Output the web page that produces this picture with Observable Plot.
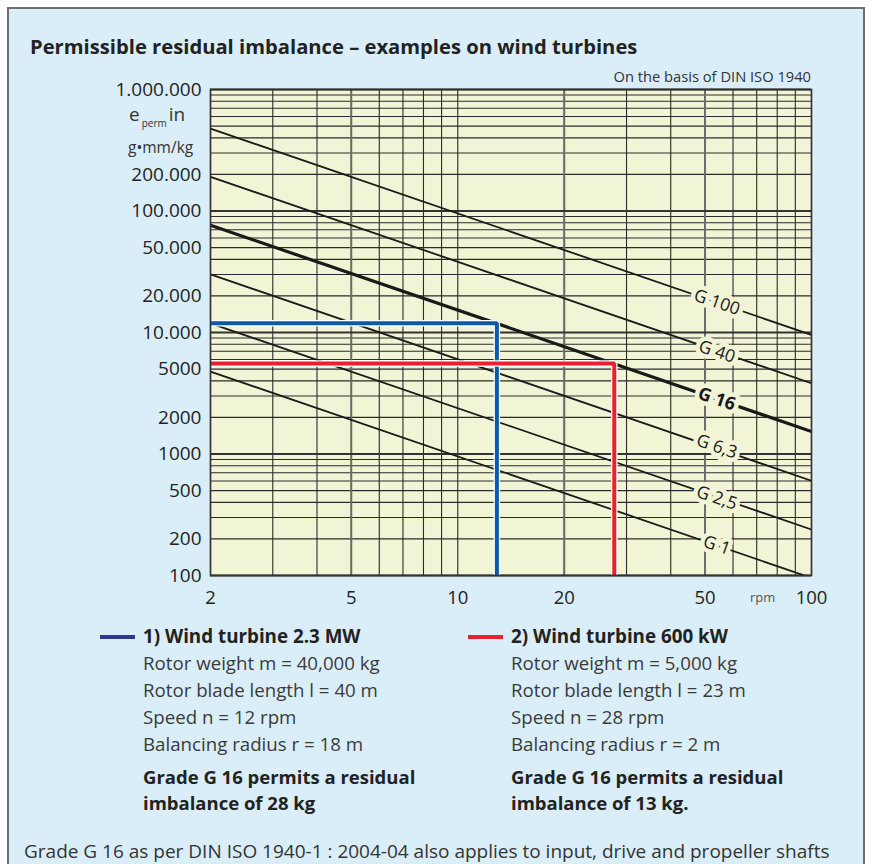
<!DOCTYPE html>
<html>
<head>
<meta charset="utf-8">
<script src="https://cdn.jsdelivr.net/npm/d3@7"></script>
<script src="https://cdn.jsdelivr.net/npm/@observablehq/plot@0.6"></script>
<style>
  html, body { margin: 0; padding: 0; background: #fff; }
  #page { position: relative; width: 870px; height: 864px; overflow: hidden; font-family: "Open Sans", sans-serif; }
  #box { position: absolute; left: 7px; top: 7px; width: 858px; height: 900px; box-sizing: border-box;
         border: 2px solid #6e6e6e; background: #daeef9; }
  .abs { position: absolute; line-height: 1; white-space: nowrap; }
  .t { font-size: 18.7px; color: #3a3a3a; }
  .b { font-size: 18.8px; color: #222; font-weight: 700; }
  .dash { position: absolute; height: 4px; }
  #chart { position: absolute; left: 0; top: 86px; }
</style>
</head>
<body>
<div id="page">
  <div id="box"></div>
  <div class="abs" id="title" style="left:30px; top:36px; font-size:20.2px; font-weight:700; color:#222;">Permissible residual imbalance – examples on wind turbines</div>
  <div class="abs" id="subtitle" style="left:0; width:811px; text-align:right; top:69px; font-size:14.7px; color:#333;">On the basis of DIN ISO 1940</div>
  <div id="chart"></div>
  <div class="abs" style="left:129px; top:105px; font-size:19px; color:#333;">e<span style="font-size:10px; position:relative; top:6px; margin:0 2px;">perm</span>in</div>
  <div class="abs" style="left:128px; top:140px; font-size:15.5px; color:#333;">g•mm/kg</div>
  <div class="abs" style="left:750px; top:591px; font-size:13px; color:#555;">rpm</div>
  <div id="legend"></div>
  <div class="abs" style="left:24px; top:842px; font-size:19px; color:#333;">Grade G 16 as per DIN ISO 1940-1 : 2004-04 also applies to input, drive and propeller shafts</div>
</div>
<script>
// ---- data ----
const grades = [100, 40, 16, 6.3, 2.5, 1];
const gradeLabels = ["G 100", "G 40", "G 16", "G 6,3", "G 2,5", "G 1"];
const speedStart = [2, 2, 2, 2, 2, 2];
const speedEnd = [100, 100, 100, 100, 100, 100];
const ePermStart = [477000, 191000, 76400, 30100, 11900, 4770];
const ePermEnd = [9550, 3820, 1530, 602, 239, 95.5];
const labelSpeed = [54, 54, 54, 54, 54, 54];
const labelEperm = [17700, 6950, 2840, 1150, 435, 177];

const xTicks = [2, 5, 10, 20, 50, 100];
const xTickLabels = ["2", "5", "10", "20", "50", "100"];
const yTicks = [1000000, 200000, 100000, 50000, 20000, 10000, 5000, 2000, 1000, 500, 200, 100];
const yTickLabels = ["1.000.000", "200.000", "100.000", "50.000", "20.000", "10.000", "5000", "2000", "1000", "500", "200", "100"];
const xMajorGrid = [5, 20, 50];
const yMajorGrid = [1000000, 100000, 10000, 1000, 100];

const turbineNames = ["1) Wind turbine 2.3 MW", "2) Wind turbine 600 kW"];
const turbineColors = ["#0a5aa8", "#e5222e"];
const turbineLegendColors = ["#2b3a8f", "#e5222e"];
const turbineSpeedDrawn = [12.9, 27.7];
const turbineEperm = [11900, 5550];
const turbineFloor = [100, 100];
const turbineDetails = [
  ["Rotor weight m = 40,000 kg", "Rotor blade length l = 40 m", "Speed n = 12 rpm", "Balancing radius r = 18 m"],
  ["Rotor weight m = 5,000 kg", "Rotor blade length l = 23 m", "Speed n = 28 rpm", "Balancing radius r = 2 m"]
];
const turbineConclusion = [
  ["Grade G 16 permits a residual", "imbalance of 28 kg"],
  ["Grade G 16 permits a residual", "imbalance of 13 kg."]
];

// ---- derived tables ----
const gradeLines = grades.flatMap((g, i) => [
  {grade: g, n: speedStart[i], e: ePermStart[i]},
  {grade: g, n: speedEnd[i], e: ePermEnd[i]}
]);
const gradeLabelData = grades.map((g, i) => ({grade: g, label: gradeLabels[i], n: labelSpeed[i], e: labelEperm[i]}));
const turbinePaths = turbineNames.map((name, i) => [
  {name, n: 2, e: turbineEperm[i]},
  {name, n: turbineSpeedDrawn[i], e: turbineEperm[i]},
  {name, n: turbineSpeedDrawn[i], e: turbineFloor[i]}
]);
const yTickData = yTicks.map((v, i) => ({v, label: yTickLabels[i]}));

const bg = "#f2f4d6";

const chart = Plot.plot({
  width: 870,
  height: 534,
  marginTop: 3,
  marginBottom: 45,
  marginLeft: 210,
  marginRight: 59,
  style: {fontFamily: "Open Sans, sans-serif", background: "transparent", overflow: "visible", color: "#222"},
  x: {type: "log", domain: [2, 100], label: null},
  y: {type: "log", domain: [100, 1000000], label: null, axis: null},
  marks: [
    Plot.frame({fill: bg, stroke: null}),
    Plot.gridY({stroke: "#2a2a2a", strokeOpacity: 1, strokeWidth: 1.1}),
    Plot.gridX({stroke: "#2a2a2a", strokeOpacity: 1, strokeWidth: 1.1}),
    Plot.ruleX(xMajorGrid, {stroke: "#6d6d6d", strokeWidth: 2}),
    Plot.ruleY(yMajorGrid, {stroke: "#333", strokeWidth: 1.8}),
    Plot.line(gradeLines.filter(d => d.grade !== 16), {x: "n", y: "e", z: "grade", stroke: "#1a1a1a", strokeWidth: 1.8, clip: true}),
    Plot.line(gradeLines.filter(d => d.grade === 16), {x: "n", y: "e", z: "grade", stroke: "#1a1a1a", strokeWidth: 3.2, clip: true}),
    Plot.text(gradeLabelData.filter(d => d.grade !== 16), {x: "n", y: "e", text: "label", rotate: 19, fontSize: 17.5, fill: "#1a1a1a", stroke: bg, strokeWidth: 9, paintOrder: "stroke"}),
    Plot.text(gradeLabelData.filter(d => d.grade === 16), {x: "n", y: "e", text: "label", rotate: 19, fontSize: 18, fontWeight: 700, fill: "#1a1a1a", stroke: bg, strokeWidth: 9, paintOrder: "stroke"}),
    ...turbinePaths.map((p, i) => [
      Plot.line(p, {x: "n", y: "e", stroke: "#ffffff", strokeWidth: 6.5, strokeLinejoin: "miter", strokeLinecap: "butt"}),
      Plot.line(p, {x: "n", y: "e", stroke: turbineColors[i], strokeWidth: 4, strokeLinejoin: "miter", strokeLinecap: "butt"})
    ]).flat(),
    Plot.frame({stroke: "#333", strokeWidth: 1.6}),
    Plot.text(yTickData, {y: "v", text: "label", frameAnchor: "left", textAnchor: "end", dx: -9, fontSize: 19, fill: "#222"}),
    Plot.axisX({ticks: xTicks, tickFormat: d => xTickLabels[xTicks.indexOf(d)], tickSize: 0, tickPadding: 15, fontSize: 18.5, label: null})
  ]
});
document.getElementById("chart").appendChild(chart);

// ---- legend ----
const legend = document.getElementById("legend");
const colX = [143, 511];
const dashX = [100, 468];
const headTop = 627.3;
const step = 26.7;
turbineNames.forEach((name, i) => {
  const dash = document.createElement("div");
  dash.className = "dash";
  dash.style.left = dashX[i] + "px";
  dash.style.width = "35px";
  dash.style.top = "635px";
  dash.style.background = turbineLegendColors[i];
  legend.appendChild(dash);
  const h = document.createElement("div");
  h.className = "abs b";
  h.style.left = colX[i] + "px";
  h.style.top = headTop + "px";
  h.textContent = name;
  legend.appendChild(h);
  turbineDetails[i].forEach((line, j) => {
    const d = document.createElement("div");
    d.className = "abs t";
    d.style.left = colX[i] + "px";
    d.style.top = (654.4 + step * j) + "px";
    d.textContent = line;
    legend.appendChild(d);
  });
  turbineConclusion[i].forEach((line, j) => {
    const d = document.createElement("div");
    d.className = "abs b";
    d.style.left = colX[i] + "px";
    d.style.top = (767.5 + 26 * j) + "px";
    d.style.fontSize = "18.5px";
    d.textContent = line;
    legend.appendChild(d);
  });
});
</script>
</body>
</html>
